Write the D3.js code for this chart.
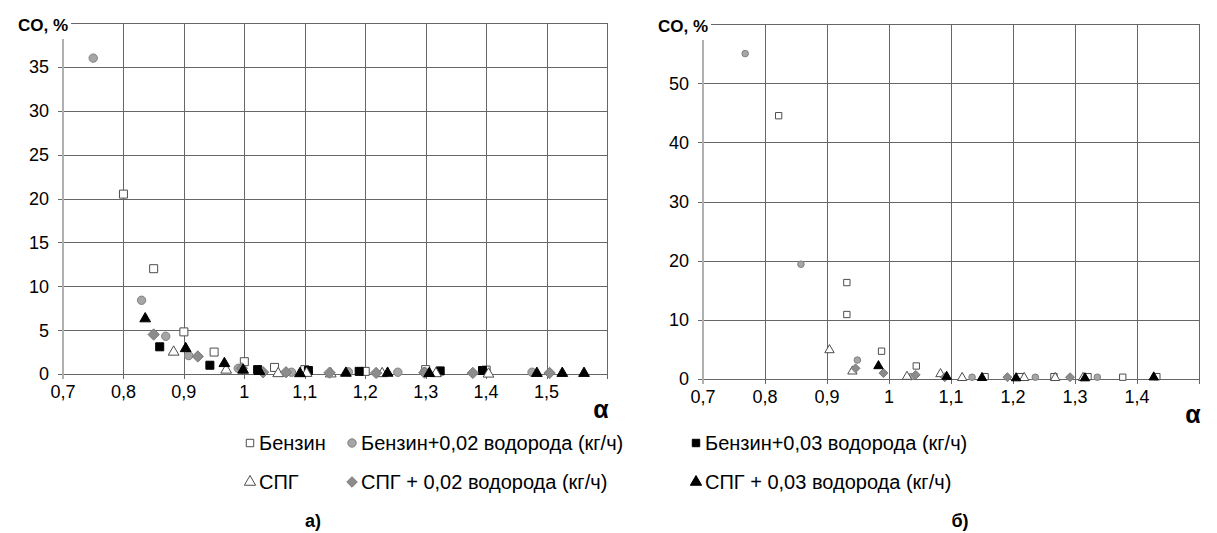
<!DOCTYPE html>
<html>
<head>
<meta charset="utf-8"/>
<script src="https://d3js.org/d3.v7.min.js"></script>
<title>CO</title>
<style type="text/css">
  body { margin: 0; background: white; }
  text { font-family: Arial, "Liberation Sans", sans-serif; fill: #000; }
</style>
</head>
<body>
<div id="chart"></div>
<script type="text/javascript">

// series names (legend)
var seriesNames = ["Бензин", "Бензин+0,02 водорода (кг/ч)", "Бензин+0,03 водорода (кг/ч)",
                   "СПГ", "СПГ + 0,02 водорода (кг/ч)", "СПГ + 0,03 водорода (кг/ч)"];

// chart a) — [alpha, CO %]
var a_benzin   = [[0.80,20.5],[0.85,12.0],[0.90,4.8],[0.95,2.5],[1.00,1.4],[1.05,0.75],[1.10,0.5],[1.20,0.3],[1.30,0.5],[1.40,0.45]];
var a_benzin02 = [[0.75,36.0],[0.83,8.4],[0.87,4.3],[0.908,2.1],[0.99,0.65],[1.078,0.2],[1.172,0.25],[1.254,0.2],[1.298,0.25],[1.476,0.2]];
var a_benzin03 = [[0.86,3.1],[0.943,1.0],[1.022,0.5],[1.106,0.4],[1.19,0.3],[1.324,0.35],[1.394,0.4]];
var a_spg      = [[0.883,2.5],[0.97,0.45],[1.056,0.05],[1.103,0.08],[1.143,0.02],[1.228,0.05],[1.317,0.05],[1.404,0.0]];
var a_spg02    = [[0.85,4.5],[0.923,2.0],[0.996,0.65],[1.031,0.2],[1.069,0.2],[1.141,0.15],[1.218,0.12],[1.298,0.15],[1.378,0.12],[1.505,0.12]];
var a_spg03    = [[0.836,6.3],[0.903,2.9],[0.967,1.2],[0.998,0.45],[1.025,0.3],[1.092,0.05],[1.168,0.1],[1.237,0.1],[1.306,0.07],[1.484,0.08],[1.526,0.08],[1.562,0.08]];

// chart б)
var b_benzin   = [[0.822,44.5],[0.932,16.3],[0.932,10.9],[0.988,4.7],[1.044,2.2],[1.155,0.4],[1.211,0.4],[1.266,0.4],[1.321,0.4],[1.377,0.3],[1.432,0.4]];
var b_benzin02 = [[0.768,55.0],[0.858,19.4],[0.949,3.2],[1.036,0.4],[1.134,0.3],[1.236,0.3],[1.336,0.3]];
var b_benzin03 = [];
var b_spg      = [[0.904,4.9],[0.941,1.3],[1.029,0.4],[1.083,0.85],[1.118,0.2],[1.218,0.2],[1.268,0.2],[1.313,0.2]];
var b_spg02    = [[0.946,1.8],[0.991,1.0],[1.043,0.7],[1.09,0.3],[1.191,0.3],[1.292,0.3]];
var b_spg03    = [[0.983,2.2],[1.093,0.4],[1.150,0.2],[1.205,0.15],[1.316,0.15],[1.427,0.3]];

var xTicksA = [0.7,0.8,0.9,1.0,1.1,1.2,1.3,1.4,1.5];
var xTicksB = [0.7,0.8,0.9,1.0,1.1,1.2,1.3,1.4];
var yTicksA = [0,5,10,15,20,25,30,35];
var yTicksB = [0,10,20,30,40,50];

// square diamond (d3's diamond is too narrow)
var symbolRhomb = {
  draw: function(ctx, size){
    var r = Math.sqrt(size / 2);
    ctx.moveTo(0, -r); ctx.lineTo(r, 0); ctx.lineTo(0, r); ctx.lineTo(-r, 0); ctx.closePath();
  }
};

// marker styles per series
var styles = [
  {type: d3.symbolSquare,   fill: "#fff",    stroke: "#4d4d4d"},
  {type: d3.symbolCircle,   fill: "#a6a6a6", stroke: "#808080"},
  {type: d3.symbolSquare,   fill: "#000",    stroke: "#000"},
  {type: d3.symbolTriangle, fill: "#fff",    stroke: "#4d4d4d"},
  {type: symbolRhomb,       fill: "#8c8c8c", stroke: "#7a7a7a"},
  {type: d3.symbolTriangle, fill: "#000",    stroke: "#000"}
];

var W = 1217, H = 533;
var svg = d3.select("#chart").append("svg")
    .attr("width", W).attr("height", H);

var fmt = function(d){ return String(d).replace(".", ","); };

function addText(g, x, y, txt, size, anchor, bold){
  return g.append("text")
    .attr("x", x).attr("y", y)
    .attr("dy", "0.36em").attr("text-anchor", anchor)
    .style("font-size", size + "px").style("font-weight", bold ? "bold" : "normal")
    .text(txt);
}

function drawPanel(opt){
  var x = d3.scaleLinear().domain(opt.xDomain).range([opt.left, opt.right]);
  var y = d3.scaleLinear().domain(opt.yDomain).range([opt.bottom, opt.top]);
  var g = svg.append("g");

  // grid
  var xGrid = d3.range(opt.xDomain[0], opt.xDomain[1] + 0.0001, 0.1);
  g.selectAll(".vg").data(xGrid.slice(1)).enter().append("line")
    .attr("x1", function(d){ return Math.round(x(d)) + 0.5; })
    .attr("x2", function(d){ return Math.round(x(d)) + 0.5; })
    .attr("y1", opt.top).attr("y2", opt.bottom + 5)
    .attr("stroke", "#666").attr("stroke-width", 1);
  var yGrid = d3.range(opt.yDomain[0], opt.yDomain[1] + 0.001, opt.yStep);
  g.selectAll(".hg").data(yGrid).enter().append("line")
    .attr("x1", opt.left - 5).attr("x2", opt.right)
    .attr("y1", function(d){ return Math.round(y(d)) + 0.5; })
    .attr("y2", function(d){ return Math.round(y(d)) + 0.5; })
    .attr("stroke", "#666").attr("stroke-width", 1);

  // y axis line
  g.append("line")
    .attr("x1", opt.left).attr("x2", opt.left)
    .attr("y1", opt.top + 16).attr("y2", opt.bottom + 5)
    .attr("stroke", "#b0b0b0").attr("stroke-width", 2);

  // tick labels
  opt.yTicks.forEach(function(d){
    addText(g, opt.left - 14, y(d), d, 18, "end", false);
  });
  opt.xTicks.forEach(function(d){
    addText(g, x(d), opt.bottom + 18, fmt(d), 18, "middle", false);
  });

  // titles
  g.append("rect").attr("x", opt.left - 58).attr("y", opt.top - 12)
    .attr("width", 66).attr("height", 26).attr("fill", "#fff");
  addText(g, opt.left + 5, opt.top + 2, "CO, %", 17, "end", true);
  addText(g, opt.right - 6, opt.bottom + 35, "α", 25, "middle", true);
  addText(g, opt.labelX, 521, opt.label, 18, "middle", true);

  // points
  opt.series.forEach(function(s, i){
    var st = styles[i];
    var sym = d3.symbol().type(st.type).size(opt.sizes[i]);
    g.selectAll(".p" + i).data(s).enter().append("path")
      .attr("d", sym)
      .attr("transform", function(d){ return "translate(" + x(d[0]) + "," + y(d[1]) + ")"; })
      .attr("fill", st.fill).attr("stroke", st.stroke).attr("stroke-width", 1);
  });
}

drawPanel({
  xDomain: [0.7, 1.6], yDomain: [0, 40], yStep: 5,
  left: 63, right: 607, top: 23, bottom: 374,
  xTicks: xTicksA, yTicks: yTicksA, label: "а)", labelX: 313,
  series: [a_benzin, a_benzin02, a_benzin03, a_spg, a_spg02, a_spg03],
  sizes: [64, 55, 64, 50, 64, 50]
});

drawPanel({
  xDomain: [0.7, 1.5], yDomain: [0, 60], yStep: 10,
  left: 703, right: 1199, top: 24, bottom: 379,
  xTicks: xTicksB, yTicks: yTicksB, label: "б)", labelX: 960,
  series: [b_benzin, b_benzin02, b_benzin03, b_spg, b_spg02, b_spg03],
  sizes: [40, 34, 40, 38, 40, 38]
});

// legend
var legX = [250, 352, 696];
var legY = [443, 482];
var leg = svg.append("g");
seriesNames.forEach(function(name, i){
  var col = i % 3, row = Math.floor(i / 3);
  var st = styles[i];
  leg.append("path")
    .attr("d", d3.symbol().type(st.type).size(55))
    .attr("transform", "translate(" + legX[col] + "," + legY[row] + ")")
    .attr("fill", st.fill).attr("stroke", st.stroke);
  addText(leg, legX[col] + 9, legY[row], name, 20, "start", false);
});

</script>
</body>
</html>
